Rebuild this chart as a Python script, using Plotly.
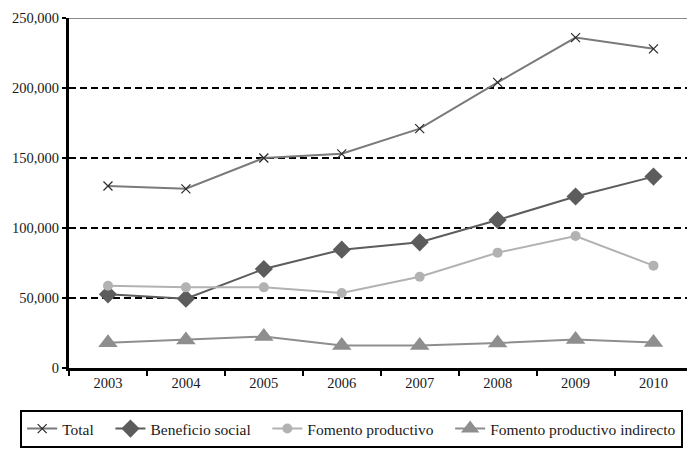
import plotly.graph_objects as go

years = ["2003", "2004", "2005", "2006", "2007", "2008", "2009", "2010"]
total = [130000, 128000, 150000, 153000, 171000, 204000, 236000, 228000]
beneficio_social = [52600, 49500, 70700, 84500, 89800, 105700, 122500, 136700]
fomento_productivo = [58800, 57600, 57600, 53600, 65200, 82400, 94300, 73100]
fomento_indirecto = [18000, 20000, 22500, 16000, 16000, 17800, 20300, 18300]

y_ticks = [0, 50000, 100000, 150000, 200000, 250000]

FONT = "Liberation Serif"
PAD = "\u00a0\u00a0\u00a0"  # extra room after each legend entry

fig = go.Figure()

fig.add_trace(go.Scatter(
    x=years, y=total, name="Total" + PAD, mode="lines+markers",
    line=dict(color="#7a7a7a", width=2),
    marker=dict(symbol="x-thin-open", size=9, color="#2a2a2a",
                line=dict(color="#2a2a2a", width=1.2)),
))
fig.add_trace(go.Scatter(
    x=years, y=beneficio_social, name="Beneficio social" + PAD,
    mode="lines+markers",
    line=dict(color="#5c5c5c", width=2),
    marker=dict(symbol="diamond", size=14, color="#5c5c5c"),
))
fig.add_trace(go.Scatter(
    x=years, y=fomento_productivo, name="Fomento productivo" + PAD,
    mode="lines+markers",
    line=dict(color="#b2b2b2", width=2),
    marker=dict(symbol="circle", size=10, color="#b2b2b2"),
))
fig.add_trace(go.Scatter(
    x=years, y=fomento_indirecto, name="Fomento productivo indirecto",
    mode="lines+markers",
    line=dict(color="#8e8e8e", width=2),
    marker=dict(symbol="triangle-up", size=17, color="#8e8e8e"),
))

# solid grey line capping the value axis
fig.add_shape(type="line", xref="paper", yref="y", x0=0, x1=1,
              y0=250000, y1=250000, line=dict(color="#8a8a8a", width=2))

fig.update_xaxes(
    type="category", range=[-0.5, 7.43],
    showline=True, linecolor="black", linewidth=3,
    ticks="outside", tickson="boundaries", ticklen=5, tickwidth=2,
    tickcolor="black", showgrid=False,
    tickfont=dict(family=FONT, size=14.5, color="#1a1a1a"),
)
fig.update_yaxes(
    range=[0, 250000], tickvals=y_ticks, tickformat=",d",
    showline=True, linecolor="black", linewidth=3,
    ticks="outside", ticklen=4, tickwidth=2, tickcolor="black",
    showgrid=True, gridcolor="black", gridwidth=2, griddash="7px,4px",
    zeroline=False,
    tickfont=dict(family=FONT, size=14.5, color="#1a1a1a"),
)

fig.update_layout(
    width=687, height=451,
    margin=dict(l=69, r=0, t=18, b=83),
    plot_bgcolor="white", paper_bgcolor="white",
    font=dict(family=FONT, size=14, color="#1a1a1a"),
    legend=dict(
        orientation="h", x=-0.079, xanchor="left", y=-0.12, yanchor="top",
        bordercolor="black", borderwidth=2, bgcolor="white",
        font=dict(family=FONT, size=15.5, color="#1a1a1a"),
    ),
    showlegend=True,
)

fig.write_html("out.html")
